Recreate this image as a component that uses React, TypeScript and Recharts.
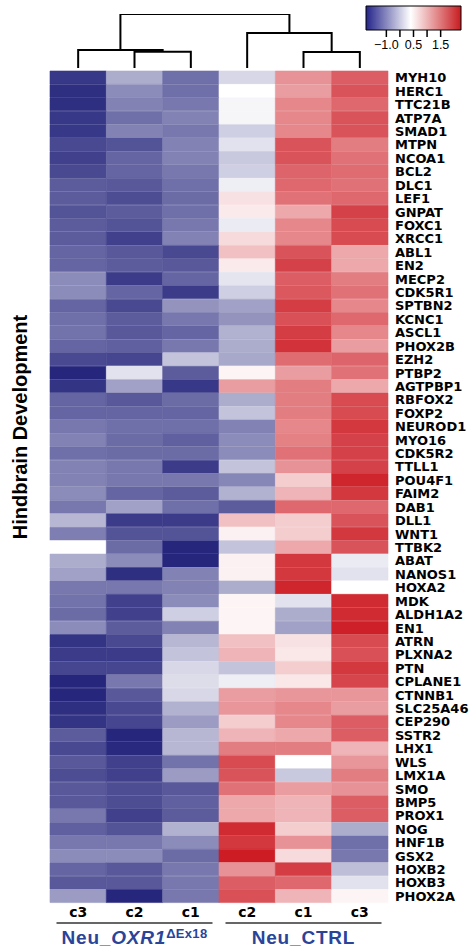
import { Bar, BarChart, Cell, Line, LineChart, XAxis, YAxis } from "recharts";

// Gene rows, top to bottom, as they appear on the heatmap.
const genes = [
  "MYH10", "HERC1", "TTC21B", "ATP7A", "SMAD1", "MTPN", "NCOA1", "BCL2", "DLC1", "LEF1",
  "GNPAT", "FOXC1", "XRCC1", "ABL1", "EN2", "MECP2", "CDK5R1", "SPTBN2", "KCNC1", "ASCL1",
  "PHOX2B", "EZH2", "PTBP2", "AGTPBP1", "RBFOX2", "FOXP2", "NEUROD1", "MYO16", "CDK5R2", "TTLL1",
  "POU4F1", "FAIM2", "DAB1", "DLL1", "WNT1", "TTBK2", "ABAT", "NANOS1", "HOXA2", "MDK",
  "ALDH1A2", "EN1", "ATRN", "PLXNA2", "PTN", "CPLANE1", "CTNNB1", "SLC25A46", "CEP290", "SSTR2",
  "LHX1", "WLS", "LMX1A", "SMO", "BMP5", "PROX1", "NOG", "HNF1B", "GSX2", "HOXB2",
  "HOXB3", "PHOX2A",
];

// Row-scaled expression, one array per sample column (left to right).
const oxrC3 = [
  -0.9, -0.95, -0.95, -0.9, -0.9, -0.8, -0.85, -0.8, -0.7, -0.7,
  -0.75, -0.7, -0.7, -0.65, -0.65, -0.45, -0.45, -0.65, -0.6, -0.58,
  -0.65, -0.8, -1.0, -0.92, -0.65, -0.65, -0.55, -0.5, -0.6, -0.5,
  -0.5, -0.45, -0.55, -0.25, -0.52, 0.0, -0.3, -0.35, -0.55, -0.58,
  -0.62, -0.45, -0.92, -0.88, -0.82, -1.0, -1.0, -0.95, -0.92, -0.7,
  -0.8, -0.72, -0.78, -0.72, -0.72, -0.55, -0.68, -0.55, -0.45, -0.65,
  -0.72, -0.38,
];
const oxrC2 = [
  -0.3, -0.45, -0.5, -0.6, -0.5, -0.75, -0.65, -0.65, -0.72, -0.78,
  -0.7, -0.75, -0.85, -0.72, -0.7, -0.88, -0.65, -0.8, -0.7, -0.72,
  -0.68, -0.82, -0.08, -0.35, -0.72, -0.65, -0.6, -0.62, -0.62, -0.55,
  -0.55, -0.65, -0.35, -0.88, -0.75, -0.62, -0.45, -0.95, -0.55, -0.85,
  -0.85, -0.7, -0.8, -0.88, -0.82, -0.55, -0.72, -0.8, -0.82, -1.0,
  -0.98, -0.85, -0.85, -0.78, -0.78, -0.85, -0.75, -0.55, -0.45, -0.72,
  -0.72, -1.0,
];
const oxrC1 = [
  -0.6, -0.6, -0.55, -0.5, -0.55, -0.5, -0.5, -0.55, -0.6, -0.62,
  -0.6, -0.55, -0.5, -0.8, -0.72, -0.65, -0.88, -0.42, -0.55, -0.65,
  -0.55, -0.2, -0.7, -0.9, -0.62, -0.65, -0.6, -0.68, -0.62, -0.88,
  -0.55, -0.7, -0.6, -0.88, -0.75, -1.0, -1.0, -0.5, -0.5, -0.45,
  -0.15, -0.5, -0.25, -0.2, -0.12, -0.1, -0.12, -0.28, -0.38, -0.25,
  -0.25, -0.58, -0.38, -0.72, -0.68, -0.7, -0.28, -0.45, -0.62, -0.55,
  -0.55, -0.55,
];
const ctrlC2 = [
  -0.12, 0.0, -0.02, -0.02, -0.15, -0.08, -0.18, -0.15, -0.04, 0.08,
  0.05, -0.05, 0.1, 0.2, 0.05, -0.07, -0.15, -0.35, -0.42, -0.28,
  -0.3, -0.32, 0.02, 0.35, -0.3, -0.2, -0.5, -0.45, -0.45, -0.2,
  -0.48, -0.28, -0.7, 0.2, 0.03, -0.2, 0.03, 0.03, -0.3, 0.02,
  0.02, 0.02, 0.2, 0.25, -0.2, -0.04, 0.35, 0.38, 0.15, 0.25,
  0.5, 0.75, 0.7, 0.55, 0.3, 0.3, 0.92, 0.85, 1.0, 0.4,
  0.65, 0.72,
];
const ctrlC1 = [
  0.4, 0.35, 0.45, 0.45, 0.45, 0.7, 0.7, 0.62, 0.6, 0.55,
  0.3, 0.45, 0.45, 0.7, 0.8, 0.65, 0.68, 0.82, 0.72, 0.82,
  0.88, 0.58, 0.35, 0.5, 0.5, 0.5, 0.45, 0.48, 0.55, 0.4,
  0.15, 0.25, 0.6, 0.15, 0.15, 0.3, 0.85, 0.85, 0.95, -0.08,
  -0.3, -0.35, 0.08, 0.06, 0.15, 0.06, 0.38, 0.45, 0.45, 0.3,
  0.5, 0.0, -0.18, 0.35, 0.25, 0.25, 0.15, 0.4, 0.1, 0.82,
  0.6, 0.25,
];
const ctrlC3 = [
  0.65, 0.7, 0.6, 0.7, 0.7, 0.5, 0.55, 0.58, 0.55, 0.6,
  0.8, 0.75, 0.75, 0.3, 0.3, 0.5, 0.55, 0.45, 0.6, 0.45,
  0.35, 0.62, 0.55, 0.3, 0.75, 0.75, 0.85, 0.8, 0.8, 0.8,
  0.95, 0.85, 0.6, 0.7, 0.85, 0.7, -0.05, -0.08, 0.0, 0.92,
  0.92, 0.98, 0.75, 0.72, 0.85, 0.78, 0.38, 0.35, 0.65, 0.65,
  0.25, 0.38, 0.5, 0.4, 0.65, 0.65, -0.3, -0.6, -0.55, -0.22,
  -0.08, 0.02,
];

const columns = [oxrC3, oxrC2, oxrC1, ctrlC2, ctrlC1, ctrlC3];
const columnLabels = ["c3", "c2", "c1", "c2", "c1", "c3"];
const groupTicks = [1.5, 4.5];

// Dendrogram merges: [left node, right node, height]. Nodes 0-5 are the
// columns, each merge adds a new node (6, 7, ...).
const merges: Array<[number, number, number]> = [
  [1, 2, 0.3],
  [0, 6, 0.333],
  [4, 5, 0.296],
  [3, 8, 0.648],
  [7, 9, 1.0],
];

// Colour key tick labels (evenly spaced ticks, only some labelled).
const keyTicks = [1.5, 2.5, 3.5, 4.5, 5.5];
const keyLabels = ["\u22121.0", "", "0.5", "", "1.5"];

const LOW = [38, 38, 125];
const HIGH = [205, 28, 36];

function heatColor(v: number): string {
  const t = Math.max(-1, Math.min(1, v));
  const end = t < 0 ? LOW : HIGH;
  const a = Math.pow(Math.abs(t), 0.8);
  const [r, g, b] = end.map((c) => Math.round(255 + (c - 255) * a));
  return `rgb(${r},${g},${b})`;
}

const rows = genes.map((gene) => ({ gene, w0: 1, w1: 1, w2: 1, w3: 1, w4: 1, w5: 1 }));

/** Builds the elbow line for each merge from the leaf positions and heights. */
function dendrogramLinks() {
  const nodeX = columns.map((_, i) => i + 0.5);
  const nodeH = columns.map(() => 0);
  return merges.map(([l, r, h]) => {
    const pts = [
      { x: nodeX[l], y: nodeH[l] },
      { x: nodeX[l], y: h },
      { x: nodeX[r], y: h },
      { x: nodeX[r], y: nodeH[r] },
    ];
    nodeX.push((nodeX[l] + nodeX[r]) / 2);
    nodeH.push(h);
    return pts;
  });
}

const FONT = "'DejaVu Sans', sans-serif";
const SANS = "'Liberation Sans', Arial, sans-serif";
const GROUP_BLUE = "#2a449a";

function GroupTick(props: any) {
  const { x, y, payload } = props;
  const left = payload.value < 3;
  return (
    <g>
      <line x1={x - 78} x2={x + 78} y1={y + 2} y2={y + 2} stroke="#333" strokeWidth={1.5} />
      <text
        x={x}
        y={y + 23}
        textAnchor="middle"
        fill={GROUP_BLUE}
        fontFamily={SANS}
        fontWeight="bold"
        fontSize={19}
        letterSpacing={0.8}
      >
        {left ? (
          <>
            <tspan>Neu_</tspan>
            <tspan fontStyle="italic">OXR1</tspan>
            <tspan fontSize={13} dy={-6} letterSpacing={0.3}>ΔEx18</tspan>
          </>
        ) : (
          "Neu_CTRL"
        )}
      </text>
    </g>
  );
}

export default function App() {
  const links = dendrogramLinks();
  return (
    <div style={{ position: "absolute", left: 0, top: 0, width: 473, height: 951, background: "#fff" }}>
      <div style={{ position: "absolute", left: 0, top: 0 }}>
        <LineChart width={473} height={70} margin={{ top: 14, right: 85, left: 50, bottom: 2 }}>
          <XAxis type="number" dataKey="x" domain={[0, 6]} hide allowDataOverflow />
          <YAxis type="number" dataKey="y" domain={[0, 1]} hide allowDataOverflow />
          {links.map((pts, i) => (
            <Line
              key={i}
              data={pts}
              dataKey="y"
              stroke="#000"
              strokeWidth={2}
              dot={false}
              activeDot={false}
              isAnimationActive={false}
            />
          ))}
        </LineChart>
      </div>

      <div style={{ position: "absolute", left: 0, top: 0 }}>
        <BarChart
          width={473}
          height={52}
          layout="vertical"
          data={[{ name: "key", span: 7 }]}
          margin={{ top: 6, right: 12, left: 366, bottom: 0 }}
          barCategoryGap={0}
        >
          <defs>
            <linearGradient id="zGrad" x1="0" x2="1" y1="0" y2="0">
              <stop offset="0%" stopColor="rgb(36,36,138)" />
              <stop offset="47%" stopColor="#ffffff" />
              <stop offset="100%" stopColor="rgb(200,28,32)" />
            </linearGradient>
          </defs>
          <XAxis
            type="number"
            domain={[0, 7]}
            ticks={keyTicks}
            tickFormatter={(_: number, i: number) => keyLabels[i]}
            axisLine={false}
            tickSize={7}
            tickMargin={3}
            height={22}
            tickLine={{ stroke: "#000", strokeWidth: 1.5 }}
            tick={{ fill: "#000", fontSize: 12.5, fontFamily: SANS }}
            interval={0}
          />
          <YAxis type="category" dataKey="name" hide />
          <Bar dataKey="span" fill="url(#zGrad)" stroke="#000" strokeWidth={1} isAnimationActive={false} />
        </BarChart>
      </div>

      <div style={{ position: "absolute", left: 0, top: 0 }}>
        <BarChart
          width={473}
          height={951}
          layout="vertical"
          data={rows}
          margin={{ top: 71, right: 0, left: 50, bottom: 0 }}
          barCategoryGap={0}
        >
          <XAxis
            xAxisId="cells"
            type="number"
            domain={[0, 6]}
            ticks={[0.5, 1.5, 2.5, 3.5, 4.5, 5.5]}
            tickFormatter={(_: number, i: number) => columnLabels[i]}
            interval={0}
            axisLine={false}
            tickLine={false}
            tickSize={0}
            tickMargin={4}
            height={18}
            tick={{ fill: "#000", fontSize: 14, fontWeight: "bold", fontFamily: FONT }}
          />
          <XAxis
            xAxisId="groups"
            type="number"
            domain={[0, 6]}
            allowDataOverflow
            ticks={groupTicks}
            interval={0}
            axisLine={false}
            tickLine={false}
            tickSize={0}
            tickMargin={0}
            height={30}
            tick={GroupTick}
          />
          <YAxis
            type="category"
            dataKey="gene"
            orientation="right"
            width={85}
            interval={0}
            axisLine={false}
            tickLine={false}
            tickSize={5}
            tickMargin={2}
            tick={{ fill: "#000", fontSize: 13, fontWeight: "bold", fontFamily: FONT }}
          />
          {columns.map((col, c) => (
            <Bar key={c} xAxisId="cells" dataKey={`w${c}`} stackId="heat" isAnimationActive={false}>
              {col.map((v, r) => (
                <Cell key={r} fill={heatColor(v)} stroke={heatColor(v)} strokeWidth={0.6} />
              ))}
            </Bar>
          ))}
        </BarChart>
      </div>

      <svg width={40} height={951} style={{ position: "absolute", left: 0, top: 0 }}>
        <text
          transform="translate(27, 427) rotate(-90)"
          textAnchor="middle"
          fontFamily={SANS}
          fontWeight="bold"
          fontSize={20}
          fill="#000"
        >
          Hindbrain Development
        </text>
      </svg>
    </div>
  );
}
